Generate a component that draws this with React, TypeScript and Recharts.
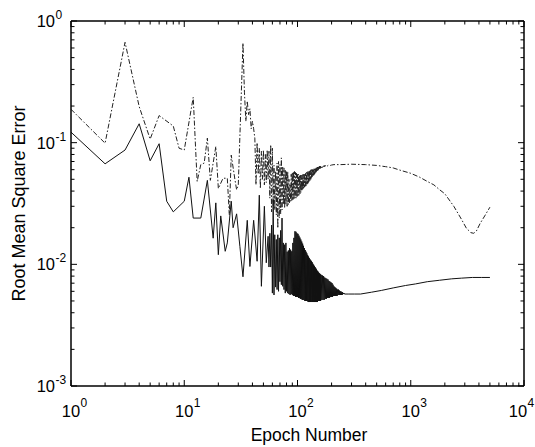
import React from 'react';
import { LineChart, Line, XAxis, YAxis } from 'recharts';

// ---- data (epoch, RMSE) ----
const solidSeries: [number, number][] = [
  [1, 0.122], [2, 0.067], [3, 0.087], [4, 0.143], [5, 0.071], [6, 0.098], [7, 0.033], [8, 0.027],
  [10, 0.033], [11, 0.052], [12, 0.024], [14, 0.024], [16, 0.049], [18, 0.0164], [19, 0.032],
  [20, 0.012], [21, 0.025], [23, 0.0128], [24, 0.015], [26, 0.033], [27, 0.02], [29, 0.026],
  [31, 0.014], [33, 0.0079], [36, 0.023], [38, 0.0096], [41, 0.023], [44, 0.0106], [46, 0.037],
  [48, 0.0066], [51, 0.03], [53, 0.0103], [55, 0.017],
  [56, 0.0095], [57, 0.018], [58, 0.0095], [59, 0.021], [60, 0.0058], [61, 0.034], [62, 0.0056],
  [63, 0.0175], [64, 0.0065], [65, 0.016], [66, 0.0062], [67, 0.0175], [68, 0.006], [69, 0.0165],
  [70, 0.0072], [71, 0.019], [72, 0.0068], [73, 0.024], [74, 0.0066], [75, 0.015], [76, 0.0062],
  [77, 0.0145], [78, 0.0058], [79, 0.015], [80, 0.006], [81, 0.0127], [82, 0.0058], [83, 0.013],
  [84, 0.0057], [85, 0.0136], [86, 0.0056], [87, 0.0132], [88, 0.0057], [89, 0.0128], [90, 0.0056],
  [91, 0.015], [92, 0.0055], [93, 0.0165], [94, 0.0055], [95, 0.0187], [96, 0.0054], [97, 0.0185],
  [98, 0.0054], [99, 0.018], [100, 0.0054],
  [101, 0.0178], [102, 0.0053], [103, 0.0172], [104, 0.0053], [105, 0.0166], [106, 0.0052],
  [107, 0.016], [108, 0.0052], [109, 0.0154], [110, 0.0051], [111, 0.0148], [112, 0.0051],
  [113, 0.0142], [114, 0.0051], [115, 0.0136], [116, 0.005], [117, 0.0131], [118, 0.005],
  [119, 0.0127], [120, 0.005], [121, 0.0123], [122, 0.005], [123, 0.0119], [124, 0.0049],
  [125, 0.0116], [126, 0.0049], [127, 0.0113], [128, 0.0049], [129, 0.011], [130, 0.0049],
  [131, 0.0108], [132, 0.0049], [133, 0.0106], [134, 0.0049], [135, 0.0104], [136, 0.0049],
  [137, 0.0101], [138, 0.0049], [139, 0.0099], [140, 0.0049], [141, 0.0097], [142, 0.0049],
  [143, 0.0095], [144, 0.0049], [145, 0.0093], [146, 0.0049], [147, 0.0091], [148, 0.0049],
  [149, 0.0089], [150, 0.0049], [151, 0.0088], [152, 0.005], [153, 0.0086], [154, 0.005],
  [155, 0.0085], [156, 0.005], [157, 0.0084], [158, 0.005], [159, 0.0083], [160, 0.005],
  [162, 0.0082], [164, 0.0051], [166, 0.0081], [168, 0.0051], [170, 0.008], [172, 0.0051],
  [174, 0.0078], [176, 0.0052], [178, 0.0077], [180, 0.0052], [182, 0.0076], [184, 0.0053],
  [186, 0.0075], [188, 0.0053], [190, 0.0073], [192, 0.0053], [194, 0.0072], [196, 0.0054],
  [198, 0.0071], [200, 0.0054], [202, 0.007], [204, 0.0054], [206, 0.0068], [208, 0.0055],
  [210, 0.0066], [212, 0.0055], [214, 0.0065], [216, 0.0055], [218, 0.0064], [220, 0.0055],
  [222, 0.0063], [224, 0.0055], [226, 0.0062], [228, 0.0056], [230, 0.0062], [232, 0.0056],
  [234, 0.0061], [236, 0.0056], [238, 0.006], [240, 0.0056], [242, 0.006], [244, 0.0056],
  [246, 0.0059], [248, 0.0056], [250, 0.0059], [252, 0.0057], [254, 0.0058], [256, 0.0057],
  [258, 0.0058], [260, 0.0057],
  [280, 0.0057], [320, 0.0057], [360, 0.0057], [450, 0.0059], [550, 0.0061], [700, 0.0064],
  [900, 0.0067], [1100, 0.0069], [1400, 0.0072], [1800, 0.0074], [2300, 0.0076], [2800, 0.0077],
  [3500, 0.0078], [4200, 0.0078], [5000, 0.0078],
];

const dashSeries: [number, number][] = [
  [1, 0.188], [2, 0.099], [3, 0.668], [4, 0.198], [5, 0.107], [6, 0.167], [8, 0.137], [9, 0.09],
  [10, 0.087], [12, 0.236], [13, 0.048], [14, 0.066], [15, 0.068], [16, 0.109], [17, 0.049],
  [19, 0.093], [20, 0.042], [22, 0.051], [24, 0.051], [25, 0.0255], [26, 0.079], [28, 0.05],
  [29, 0.041], [30, 0.045], [33, 0.66], [34, 0.26], [35, 0.15], [36, 0.22], [37, 0.17], [38, 0.19],
  [39, 0.13], [40, 0.15], [41, 0.13], [42, 0.109], [43, 0.045], [44, 0.1], [45, 0.055], [46, 0.09],
  [47, 0.042], [48, 0.085], [49, 0.05], [50, 0.087], [51, 0.045], [52, 0.08], [53, 0.047],
  [54, 0.087], [55, 0.05], [56, 0.085], [57, 0.035], [58, 0.096], [59, 0.027], [60, 0.09],
  [61, 0.03], [62, 0.065], [63, 0.028], [64, 0.058], [65, 0.0255], [66, 0.068], [67, 0.0198],
  [68, 0.07], [69, 0.024], [70, 0.066], [71, 0.026], [72, 0.075], [73, 0.028], [74, 0.064],
  [75, 0.031], [76, 0.062], [77, 0.029], [78, 0.06], [79, 0.031], [80, 0.058], [81, 0.03],
  [82, 0.058], [83, 0.031], [84, 0.05], [85, 0.032], [86, 0.045], [87, 0.033], [88, 0.055],
  [89, 0.033], [90, 0.057], [91, 0.034], [92, 0.058], [93, 0.034], [94, 0.058], [95, 0.035],
  [96, 0.057], [97, 0.035], [98, 0.056], [99, 0.036], [100, 0.055],
  [101, 0.036], [102, 0.055], [103, 0.037], [104, 0.054], [105, 0.038], [106, 0.054], [107, 0.039],
  [108, 0.054], [109, 0.04], [110, 0.054], [111, 0.041], [112, 0.055], [113, 0.042], [114, 0.055],
  [115, 0.043], [116, 0.056], [117, 0.043], [118, 0.056], [119, 0.044], [120, 0.057], [121, 0.045],
  [122, 0.057], [123, 0.046], [124, 0.058], [125, 0.047], [126, 0.058], [127, 0.048], [128, 0.059],
  [129, 0.049], [130, 0.059], [131, 0.05], [132, 0.06], [133, 0.051], [134, 0.06], [135, 0.052],
  [136, 0.06], [137, 0.053], [138, 0.061], [139, 0.054], [140, 0.061], [141, 0.055], [142, 0.062],
  [143, 0.056], [144, 0.062], [145, 0.057], [146, 0.062], [147, 0.058], [148, 0.063], [149, 0.058],
  [150, 0.063], [151, 0.059], [152, 0.063], [153, 0.06], [154, 0.064], [155, 0.06], [156, 0.064],
  [157, 0.061], [158, 0.064], [159, 0.061], [160, 0.064],
  [162, 0.062], [164, 0.064], [166, 0.0625], [168, 0.0645], [170, 0.063], [172, 0.065],
  [174, 0.0635], [176, 0.065], [178, 0.064], [180, 0.065], [184, 0.0645], [188, 0.0655],
  [195, 0.065], [200, 0.0655], [210, 0.066],
  [240, 0.066], [300, 0.0665], [400, 0.066], [500, 0.065], [600, 0.0635], [700, 0.062],
  [800, 0.0595], [1000, 0.056], [1200, 0.052], [1400, 0.048], [1600, 0.045], [1800, 0.041],
  [2000, 0.038], [2400, 0.03], [2800, 0.0235], [3100, 0.0198], [3400, 0.0182], [3600, 0.018],
  [3800, 0.0188], [4100, 0.0217], [4500, 0.025], [5000, 0.0295],
];

const xTicks = [
  1, 2, 3, 4, 5, 6, 7, 8, 9,
  10, 20, 30, 40, 50, 60, 70, 80, 90,
  100, 200, 300, 400, 500, 600, 700, 800, 900,
  1000, 2000, 3000, 4000, 5000, 6000, 7000, 8000, 9000,
  10000,
];
const yTicks = [
  0.001, 0.002, 0.003, 0.004, 0.005, 0.006, 0.007, 0.008, 0.009,
  0.01, 0.02, 0.03, 0.04, 0.05, 0.06, 0.07, 0.08, 0.09,
  0.1, 0.2, 0.3, 0.4, 0.5, 0.6, 0.7, 0.8, 0.9,
  1,
];

const xTitle = 'Epoch Number';
const yTitle = 'Root Mean Square Error';

// ---- layout ----
const W = 535;
const H = 447;
const LEFT = 71;
const RIGHT = 524;
const TOP = 21;
const BOTTOM = 386;
const FONT = '"Liberation Sans", Arial, Helvetica, sans-serif';
const MAJOR = 6;
const MINOR = 3.5;

const solidData = solidSeries.map(([e, v]) => ({ e, v }));
const dashData = dashSeries.map(([e, v]) => ({ e, v }));

const isMajor = (v: number) => Math.abs(Math.log10(v) - Math.round(Math.log10(v))) < 1e-9;
const expOf = (v: number) => Math.round(Math.log10(v));

const BottomTick = (props: any) => {
  const { x, payload } = props;
  const v = payload.value;
  const major = isMajor(v);
  // keep the last label inside the picture
  const lx = Math.min(x, W - 17);
  return (
    <g>
      <line x1={x} x2={x} y1={BOTTOM} y2={BOTTOM - (major ? MAJOR : MINOR)} stroke="#000" strokeWidth={1} />
      {major && (
        <>
          <text x={lx} y={BOTTOM + 31} textAnchor="middle" fontSize={16.5} fontFamily={FONT} fill="#000">10</text>
          <text x={lx + 9.5} y={BOTTOM + 21} textAnchor="start" fontSize={12} fontFamily={FONT} fill="#000">{String(expOf(v))}</text>
        </>
      )}
    </g>
  );
};

const TopTick = (props: any) => {
  const { x, payload } = props;
  const major = isMajor(payload.value);
  return <line x1={x} x2={x} y1={TOP} y2={TOP + (major ? MAJOR : MINOR)} stroke="#000" strokeWidth={1} />;
};

const LeftTick = (props: any) => {
  const { y, payload } = props;
  const v = payload.value;
  const major = isMajor(v);
  return (
    <g>
      <line x1={LEFT} x2={LEFT + (major ? MAJOR : MINOR)} y1={y} y2={y} stroke="#000" strokeWidth={1} />
      {major && (
        <>
          <text x={LEFT - 16} y={y + 6} textAnchor="end" fontSize={16.5} fontFamily={FONT} fill="#000">10</text>
          <text x={LEFT - 15.5} y={y - 2} textAnchor="start" fontSize={12} fontFamily={FONT} fill="#000">{String(expOf(v))}</text>
        </>
      )}
    </g>
  );
};

const RightTick = (props: any) => {
  const { y, payload } = props;
  const major = isMajor(payload.value);
  return <line x1={RIGHT} x2={RIGHT - (major ? MAJOR : MINOR)} y1={y} y2={y} stroke="#000" strokeWidth={1} />;
};

const XTitle = () => (
  <text x={309} y={441} textAnchor="middle" fontSize={17.5} fontFamily={FONT} fill="#000">{xTitle}</text>
);
const YTitle = () => (
  <text
    x={25}
    y={(TOP + BOTTOM) / 2}
    transform={`rotate(-90 25 ${(TOP + BOTTOM) / 2})`}
    textAnchor="middle"
    fontSize={18}
    fontFamily={FONT}
    fill="#000"
  >
    {yTitle}
  </text>
);

const axisLine = { stroke: '#000', strokeWidth: 1.5 };

export default function App() {
  return (
    <div style={{ position: 'absolute', left: 0, top: 0, width: W, height: H, background: '#fff' }}>
      <LineChart width={W} height={H} margin={{ top: 0, right: 0, bottom: 0, left: 0 }}>
        <XAxis
          xAxisId="b"
          dataKey="e"
          type="number"
          scale="log"
          domain={[1, 10000]}
          allowDataOverflow
          orientation="bottom"
          height={H - BOTTOM}
          ticks={xTicks}
          interval={0}
          tickLine={false}
          tickSize={0}
          tickMargin={0}
          axisLine={axisLine}
          tick={(p: any) => <BottomTick {...p} />}
          label={<XTitle />}
        />
        <XAxis
          xAxisId="t"
          dataKey="e"
          type="number"
          scale="log"
          domain={[1, 10000]}
          allowDataOverflow
          orientation="top"
          height={TOP}
          ticks={xTicks}
          interval={0}
          tickLine={false}
          tickSize={0}
          tickMargin={0}
          axisLine={axisLine}
          tick={(p: any) => <TopTick {...p} />}
        />
        <YAxis
          yAxisId="l"
          dataKey="v"
          type="number"
          scale="log"
          domain={[0.001, 1]}
          allowDataOverflow
          orientation="left"
          width={LEFT}
          ticks={yTicks}
          interval={0}
          tickLine={false}
          tickSize={0}
          tickMargin={0}
          axisLine={axisLine}
          tick={(p: any) => <LeftTick {...p} />}
          label={<YTitle />}
        />
        <YAxis
          yAxisId="r"
          dataKey="v"
          type="number"
          scale="log"
          domain={[0.001, 1]}
          allowDataOverflow
          orientation="right"
          width={W - RIGHT}
          ticks={yTicks}
          interval={0}
          tickLine={false}
          tickSize={0}
          tickMargin={0}
          axisLine={axisLine}
          tick={(p: any) => <RightTick {...p} />}
        />
        <Line
          xAxisId="b"
          yAxisId="l"
          data={dashData}
          dataKey="v"
          type="linear"
          stroke="#222"
          strokeWidth={1}
          strokeDasharray="5 2 1.5 2"
          dot={false}
          activeDot={false}
          isAnimationActive={false}
        />
        <Line
          xAxisId="b"
          yAxisId="l"
          data={solidData}
          dataKey="v"
          type="linear"
          stroke="#111"
          strokeWidth={1}
          dot={false}
          activeDot={false}
          isAnimationActive={false}
        />
      </LineChart>
    </div>
  );
}
